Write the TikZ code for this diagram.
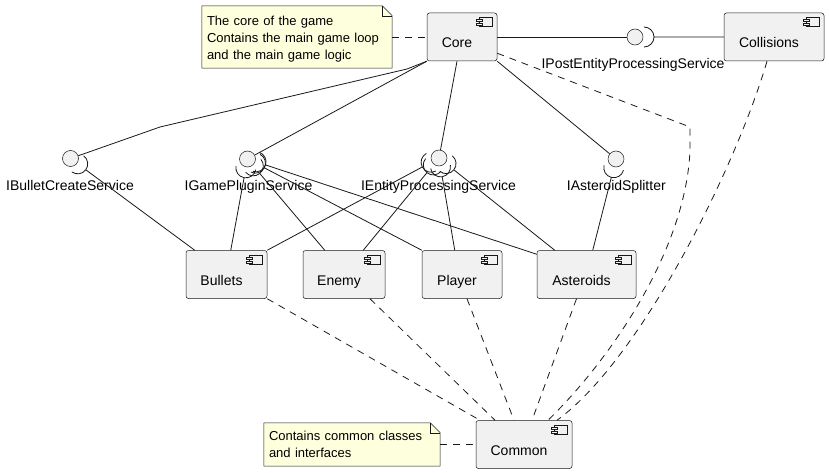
\documentclass[tikz,border=0pt]{standalone}
\usepackage{fontspec}
\setmainfont{Liberation Sans}
\usetikzlibrary{calc,backgrounds}
\definecolor{boxgray}{HTML}{F1F1F1}
\definecolor{linegray}{HTML}{181818}
\definecolor{noteyellow}{HTML}{FEFFDD}
\tikzset{
  comp/.style={draw=linegray, line width=0.5pt, fill=boxgray, rounded corners=2.5pt,
    minimum height=48pt, inner sep=0pt, text height=24pt, text depth=2pt,
    font=\fontsize{14}{16}\selectfont, execute at end node=\hspace*{10pt}},
  icon/.style={draw=linegray, line width=0.5pt, fill=boxgray},
  iface/.style={circle, draw=linegray, line width=0.5pt, fill=boxgray, minimum size=16pt, inner sep=0pt},
  ilabel/.style={inner sep=0pt, text height=10pt, text depth=3pt, font=\fontsize{14}{16}\selectfont},
  note/.style={align=left, inner xsep=5pt, inner ysep=0pt, font=\fontsize{13}{17}\selectfont},
  notebox/.style={draw=linegray, line width=0.5pt, fill=noteyellow},
  conn/.style={draw=linegray, line width=0.8pt},
  dep/.style={conn, dash pattern=on 7pt off 6pt},
}
\newcommand{\compicon}[1]{%
  \draw[icon] ([shift={(-18pt,-5pt)}]#1.north east) rectangle ++(13pt,-9pt);
  \draw[icon] ([shift={(-21pt,-7pt)}]#1.north east) rectangle ++(6pt,-2pt);
  \draw[icon] ([shift={(-21pt,-10.5pt)}]#1.north east) rectangle ++(6pt,-2pt);
}
\newcommand{\socket}[2]{%
  \draw[conn] let \p1=(#1.center), \p2=(#2), \n1={atan2(\y2-\y1,\x2-\x1)} in
    ($(\p1)+(\n1:9pt)$) ++(\n1-90:10pt) arc[start angle=\n1-90, delta angle=180, radius=10pt]
    ($(\p1)+(\n1:19pt)$) -- (\p2);
}
\begin{document}
\begin{tikzpicture}[x=1pt, y=-1pt]
  \useasboundingbox (0,0) rectangle (829,473);

  \node (Core) at (462,37) [comp, minimum width=70pt] {Core};
  \node (Collisions) at (774,37) [comp, minimum width=100pt] {Collisions};
  \node (Bullets) at (226.5,274.5) [comp, minimum width=81pt] {Bullets};
  \node (Enemy) at (344,274.5) [comp, minimum width=82pt] {Enemy};
  \node (Player) at (462,274.5) [comp, minimum width=80pt] {Player};
  \node (Asteroids) at (586.5,274.5) [comp, minimum width=99pt] {Asteroids};
  \node (Common) at (524,444.5) [comp, minimum width=96pt] {Common};
  \foreach \cname in {Core,Collisions,Bullets,Enemy,Player,Asteroids,Common} {\compicon{\cname}}

  \node (coreNote) at (297,37) [note, text width=180pt, minimum height=62pt]
    {\rule{0pt}{13pt}The core of the game\\Contains the main game loop\\and the main game logic};
  \node (commonNote) at (352,444.5) [note, text width=166pt, minimum height=43pt]
    {Contains common classes\\and interfaces};
  \begin{scope}[on background layer]
    \foreach \nname in {coreNote,commonNote} {
      \draw[notebox] (\nname.north west) -- ([xshift=-10pt]\nname.north east)
        -- ([yshift=-10pt]\nname.north east) -- (\nname.south east) -- (\nname.south west) -- cycle;
      \draw[notebox, fill=none] ([xshift=-10pt]\nname.north east) |- ([yshift=-10pt]\nname.north east);
    }
  \end{scope}

  \node (iPE) at (635,37) [iface] {};
  \node (iPEl) at (633,65) [ilabel] {IPostEntityProcessingService};
  \node (iBC) at (70.5,158.5) [iface] {};
  \node (iBCl) at (70,186.5) [ilabel] {IBulletCreateService};
  \node (iGP) at (247.5,159) [iface] {};
  \node (iGPl) at (248.5,186.5) [ilabel] {IGamePluginService};
  \node (iEP) at (439,158) [iface] {};
  \node (iEPl) at (438.5,186.5) [ilabel] {IEntityProcessingService};
  \node (iAS) at (616,159) [iface] {};
  \node (iASl) at (616.3,186.5) [ilabel] {IAsteroidSplitter};

  \coordinate (kBC1) at (407,69);
  \coordinate (kBC2) at (160,127);
  \coordinate (kCore1) at (690,127);
  \coordinate (kCore2) at (690,150);

  \draw[conn] (Core.east) -- (iPE);
  \draw[conn] (Core.south west) -- (kBC1) -- (kBC2) -- (iBC);
  \draw[conn] (Core.south west) -- (iGP);
  \draw[conn] ([xshift=-5pt]Core.south) -- (iEP);
  \draw[conn] (Core.south east) -- (iAS);

  \socket{iPE}{Collisions.west}
  \socket{iBC}{[xshift=9pt]Bullets.north west}
  \socket{iGP}{[xshift=45pt]Bullets.north west}
  \socket{iGP}{[xshift=22pt]Enemy.north west}
  \socket{iGP}{Player.north west}
  \socket{iGP}{[yshift=-4pt]Asteroids.north west}
  \socket{iEP}{Bullets.north east}
  \socket{iEP}{[xshift=-22pt]Enemy.north east}
  \socket{iEP}{[xshift=33pt]Player.north west}
  \socket{iEP}{[xshift=18pt]Asteroids.north west}
  \socket{iAS}{[xshift=56pt]Asteroids.north west}

  \draw[dep] (coreNote) -- (Core);
  \draw[dep] (commonNote) -- (Common);
  \draw[dep] (Bullets.south east) -- ([xshift=-44pt]Common.north);
  \draw[dep] ([xshift=26pt]Enemy.south) -- ([xshift=-29pt]Common.north);
  \draw[dep] ([xshift=5pt]Player.south) -- ([xshift=-10pt]Common.north);
  \draw[dep] ([xshift=-10pt]Asteroids.south) -- ([xshift=8pt]Common.north);
  \draw[dep] ([yshift=8pt]Core.south east) -- (kCore1) -- (kCore2)
    .. controls (686,250) and (610,360) .. ([xshift=24pt]Common.north);
  \draw[dep] ([xshift=-7pt]Collisions.south)
    .. controls (735,170) and (640,360) .. ([xshift=33pt]Common.north);
\end{tikzpicture}
\end{document}
